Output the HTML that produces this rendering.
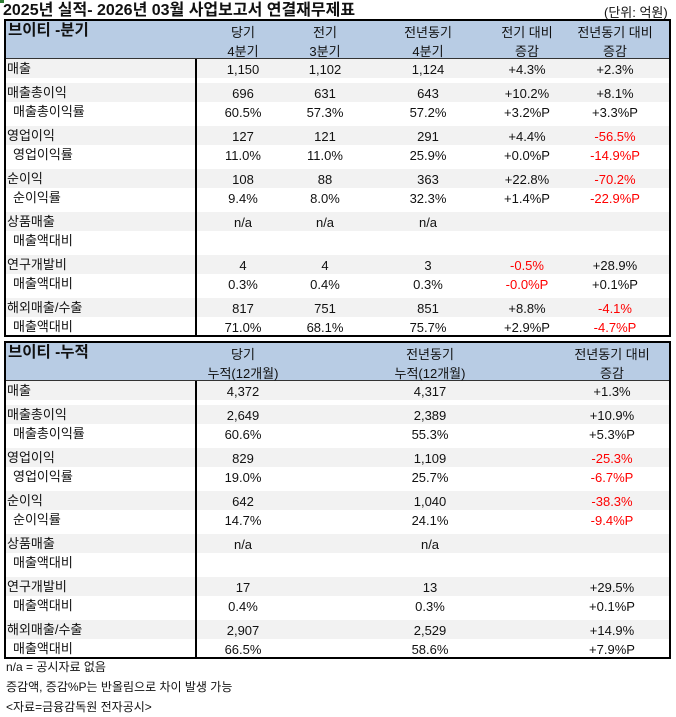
<!DOCTYPE html>
<html><head><meta charset="utf-8">
<style>
*{margin:0;padding:0;box-sizing:border-box}
body{width:676px;height:717px;background:#fff;position:relative;overflow:hidden;font-family:"Liberation Sans","Noto Sans CJK KR","NanumGothic",sans-serif;font-size:13px;color:#111;line-height:19px}
.a{position:absolute;white-space:nowrap;line-height:19px}
.c{position:absolute;white-space:nowrap;transform:translateX(-50%);line-height:19px}
.r{color:#ff0000}
.tbl{position:absolute;left:4px;width:667px;border:2px solid #000}
.hd{position:absolute;left:0;right:0;top:0;background:#b8cce4;border-bottom:1px solid #333}
.g{position:absolute;left:0;right:0;height:19px;background:#f2f2f2}
.vl{position:absolute;left:189px;width:1.5px;background:#000}
</style></head><body>
<div class="a" style="left:0;top:0;width:4px;height:3px;background:#2e7d32"></div>
<div class="a" style="left:3px;top:1px;font-size:16px;font-weight:bold">2025년 실적- 2026년 03월 사업보고서 연결재무제표</div>
<div class="a" style="left:604px;top:3px">(단위: 억원)</div>
<div id="t1" class="tbl" style="top:19px;height:318px"></div>
<div id="t2" class="tbl" style="top:341px;height:318px"></div>
<div class="a" style="left:6px;top:658px;font-size:12px">n/a = 공시자료 없음</div>
<div class="a" style="left:6px;top:678px;font-size:12px">증감액, 증감%P는 반올림으로 차이 발생 가능</div>
<div class="a" style="left:6px;top:698px;font-size:12px">&lt;자료=금융감독원 전자공시&gt;</div>
<script>
function build(id,title,hdrs,cols,rows){
 var t=document.getElementById(id),h='';
 h+='<div class="hd" style="height:38px"></div>';
 h+='<div class="a" style="left:2px;top:0px;font-size:15.5px;font-weight:bold">'+title+'</div>';
 hdrs.forEach(function(x,i){h+='<div class="c" style="left:'+(cols[i]-6)+'px;top:2px">'+x[0]+'</div><div class="c" style="left:'+(cols[i]-6)+'px;top:21px">'+x[1]+'</div>';});
 var txt='';
 rows.forEach(function(r,k){
  var y;
  if(k==0)y=38;else{var gi=Math.floor((k-1)/2);y=62+gi*43+((k-1)%2)*19;}
  if(k==0||(k-1)%2==0)h+='<div class="g" style="top:'+y+'px"></div>';
  txt+='<div class="a" style="left:'+(k==0||(k-1)%2==0?1:7)+'px;top:'+y+'px">'+r[0]+'</div>';
  for(var i=1;i<r.length;i++){var v=r[i];if(!v)continue;var red=v[0]=='-';
   txt+='<div class="c'+(red?' r':'')+'" style="left:'+(cols[i-1]-6)+'px;top:'+(y+1)+'px">'+v+'</div>';}
 });
 h+='<div class="vl" style="top:38px;bottom:0"></div>'+txt;
 t.innerHTML=h;
}
build('t1','브이티 -분기',[['당기','4분기'],['전기','3분기'],['전년동기','4분기'],['전기 대비','증감'],['전년동기 대비','증감']],[243,325,428,527,615],[
['매출','1,150','1,102','1,124','+4.3%','+2.3%'],
['매출총이익','696','631','643','+10.2%','+8.1%'],
['매출총이익률','60.5%','57.3%','57.2%','+3.2%P','+3.3%P'],
['영업이익','127','121','291','+4.4%','-56.5%'],
['영업이익률','11.0%','11.0%','25.9%','+0.0%P','-14.9%P'],
['순이익','108','88','363','+22.8%','-70.2%'],
['순이익률','9.4%','8.0%','32.3%','+1.4%P','-22.9%P'],
['상품매출','n/a','n/a','n/a','',''],
['매출액대비','','','','',''],
['연구개발비','4','4','3','-0.5%','+28.9%'],
['매출액대비','0.3%','0.4%','0.3%','-0.0%P','+0.1%P'],
['해외매출/수출','817','751','851','+8.8%','-4.1%'],
['매출액대비','71.0%','68.1%','75.7%','+2.9%P','-4.7%P']]);
build('t2','브이티 -누적',[['당기','누적(12개월)'],['전년동기','누적(12개월)'],['전년동기 대비','증감']],[243,430,612],[
['매출','4,372','4,317','+1.3%'],
['매출총이익','2,649','2,389','+10.9%'],
['매출총이익률','60.6%','55.3%','+5.3%P'],
['영업이익','829','1,109','-25.3%'],
['영업이익률','19.0%','25.7%','-6.7%P'],
['순이익','642','1,040','-38.3%'],
['순이익률','14.7%','24.1%','-9.4%P'],
['상품매출','n/a','n/a',''],
['매출액대비','','',''],
['연구개발비','17','13','+29.5%'],
['매출액대비','0.4%','0.3%','+0.1%P'],
['해외매출/수출','2,907','2,529','+14.9%'],
['매출액대비','66.5%','58.6%','+7.9%P']]);
</script>
</body></html>
